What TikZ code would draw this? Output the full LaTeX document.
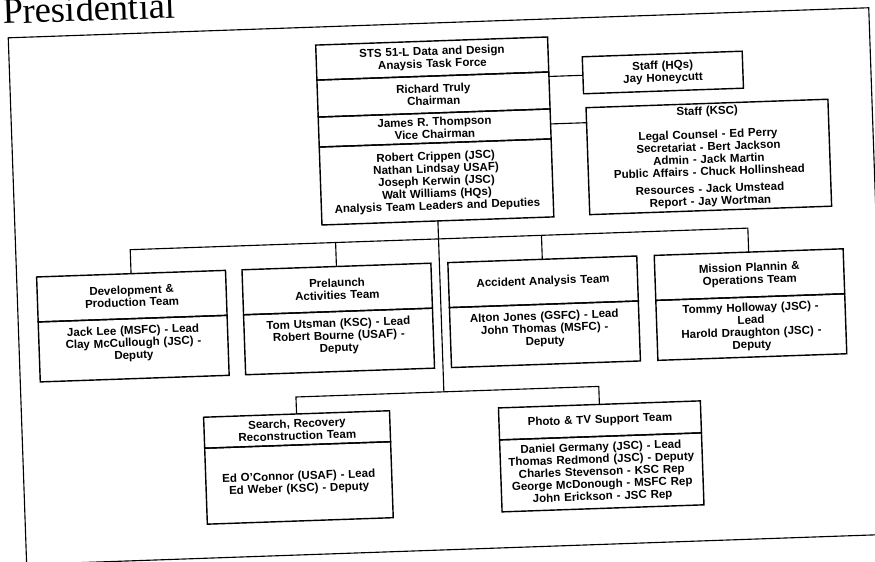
\documentclass[tikz,border=0pt]{standalone}
\usepackage{fontspec}
\setmainfont{Liberation Sans}
\newfontfamily\presfont{Liberation Serif}
\usetikzlibrary{positioning}

\begin{document}
\begin{tikzpicture}[
  x=0.25mm, y=-0.25mm,
  cell/.style={draw, line width=1pt, align=center, inner xsep=0.5mm, inner ysep=0pt, outer sep=0pt,
    font=\bfseries\fontsize{8.2}{8.8}\selectfont},
  taskpart/.style={cell, text width=57mm, minimum height=#1},
  staffbox/.style={cell, minimum height=#1},
  teamhead/.style={cell, minimum height=#1},
  teambody/.style={cell, minimum height=#1},
  link/.style={line width=0.8pt}
]
  \useasboundingbox (0,0) rectangle (875,562);
  \begin{scope}[transform canvas={rotate around={2:(437,281)}}]
  % page frame and clipped heading
  \draw[line width=0.8pt] (17,23) rectangle (878,550);
  \node[font=\presfont\fontsize{26}{26}\selectfont, anchor=base west, inner sep=0pt] (pres) at (12,9) {Presidential};

  % task force
  \node[taskpart=8.75mm] (tf1) at (440,58.5) {STS 51-L Data and Design\\Anaysis Task Force};
  \node[taskpart=9.25mm, below=0pt of tf1] (tf2) {Richard Truly\\Chairman};
  \node[taskpart=7.5mm, below=0pt of tf2] (tf3) {James R. Thompson\\Vice Chairman};
  \node[taskpart=19.5mm, below=0pt of tf3] (tf4) {Robert Crippen (JSC)\\Nathan Lindsay USAF)\\Joseph Kerwin (JSC)\\Walt Williams (HQs)\\Analysis Team Leaders and Deputies};

  % staff
  \node[staffbox=9.25mm, text width=39mm] (hq) at (670,80.5) {Staff (HQs)\\Jay Honeycutt};
  \node[staffbox=26.75mm, text width=59.5mm] (ksc) at (713,166.5) {Staff (KSC)\\[2.8mm]Legal Counsel - Ed Perry\\Secretariat - Bert Jackson\\Admin - Jack Martin\\Public Affairs - Chuck Hollinshead\\[1.2mm]Resources - Jack Umstead\\Report - Jay Wortman};

  % teams, first row
  \node[teamhead=11.25mm, text width=46.25mm] (dev) at (131.5,285.5) {Development \&\\Production Team};
  \node[teambody=15mm, text width=46.25mm, below=0pt of dev] (devb) {Jack Lee (MSFC) - Lead\\Clay McCullough (JSC) -\\Deputy\\\mbox{}};
  \node[teamhead=11.25mm, text width=46.25mm] (pre) at (337,285.5) {Prelaunch\\Activities Team};
  \node[teambody=15mm, text width=46.25mm, below=0pt of pre] (preb) {Tom Utsman (KSC) - Lead\\Robert Bourne (USAF) -\\Deputy\\\mbox{}};
  \node[teamhead=11.25mm, text width=46.25mm] (acc) at (543,285.5) {Accident Analysis Team};
  \node[teambody=15mm, text width=46.25mm, below=0pt of acc] (accb) {Alton Jones (GSFC) - Lead\\John Thomas (MSFC) -\\Deputy\\\mbox{}};
  \node[teamhead=11.25mm, text width=46.25mm] (mis) at (749.5,285.5) {Mission Plannin \&\\Operations Team};
  \node[teambody=15mm, text width=46.25mm, below=0pt of mis] (misb) {Tommy Holloway (JSC) -\\Lead\\Harold Draughton (JSC) -\\Deputy};

  % teams, second row
  \node[teamhead=7.75mm, text width=45.5mm] (sr) at (292,424.5) {Search, Recovery\\Reconstruction Team};
  \node[teambody=19mm, text width=45.5mm, below=0pt of sr] (srb) {Ed O'Connor (USAF) - Lead\\Ed Weber (KSC) - Deputy};
  \node[teamhead=8mm, text width=49.5mm] (ph) at (595,426) {Photo \& TV Support Team};
  \node[teambody=18mm, text width=49.5mm, below=0pt of ph] (phb) {Daniel Germany (JSC) - Lead\\Thomas Redmond (JSC) - Deputy\\Charles Stevenson - KSC Rep\\George McDonough - MSFC Rep\\John Erickson - JSC Rep};

  % connectors
  \coordinate (bus1) at (440,239);
  \coordinate (bus2) at (440,392);
  \draw[link] (tf4.south) -- (bus2);
  \draw[link] (dev.north) |- (mis.north |- bus1) -- (mis.north);
  \draw[link] (pre.north) -- (pre.north |- bus1);
  \draw[link] (acc.north) -- (acc.north |- bus1);
  \draw[link] (sr.north) |- (ph.north |- bus2) -- (ph.north);
  \draw[link] (tf2.east |- hq.west) -- (hq.west);
  \draw[link] (tf3.east) -- (tf3.east -| ksc.west);
  \end{scope}
\end{tikzpicture}
\end{document}
